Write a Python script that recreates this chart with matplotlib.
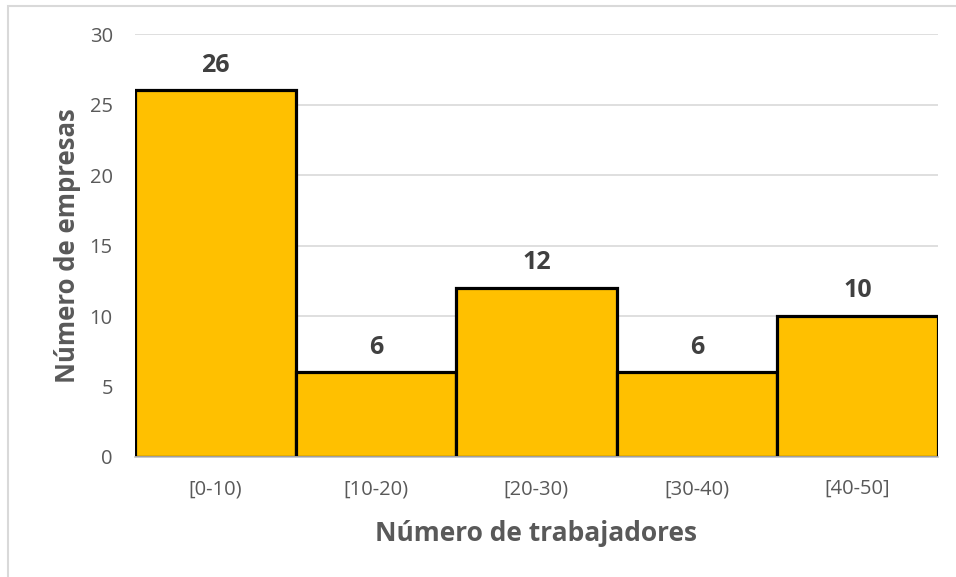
import matplotlib.pyplot as plt
from matplotlib.patches import Rectangle

categorias = ['[0-10)', '[10-20)', '[20-30)', '[30-40)', '[40-50]']
empresas = [26, 6, 12, 6, 10]

plt.rcParams['font.family'] = ['Open Sans', 'DejaVu Sans']

fig = plt.figure(figsize=(9.56, 5.77), dpi=100)
ax = fig.add_axes([0.1412, 0.208, 0.8398, 0.733])

# marco exterior del gráfico
fig.patches.append(Rectangle((8 / 956, -0.01), 1.0, 1 - 6 / 577 + 0.01,
                             transform=fig.transFigure, fill=False,
                             edgecolor='#d9d9d9', linewidth=1.5))

x = range(len(categorias))
ax.bar(x, empresas, width=1.0, color='#ffc000', edgecolor='black',
       linewidth=2.3, zorder=3)

for xi, v in zip(x, empresas):
    ax.text(xi, v + 0.9, str(v), ha='center', va='bottom',
            fontsize=18, fontweight='bold', color='#404040')

ax.set_xlim(-0.5, len(categorias) - 0.5)
ax.set_ylim(0, 30)
ax.set_yticks(range(0, 31, 5))
ax.set_xticks(list(x))
ax.set_xticklabels(categorias)
ax.tick_params(axis='both', length=0, labelsize=14.5, colors='#595959')
ax.tick_params(axis='x', pad=16)
ax.tick_params(axis='y', pad=16)
ax.grid(axis='y', color='#d9d9d9', linewidth=1.2, zorder=0)
for s in ['top', 'right', 'left']:
    ax.spines[s].set_visible(False)
ax.spines['bottom'].set_color('#bfbfbf')
ax.spines['bottom'].set_linewidth(1.2)
ax.spines['bottom'].set_zorder(4)

ax.set_xlabel('Número de trabajadores', fontsize=19, fontweight='bold',
              color='#595959', labelpad=15)
ax.set_ylabel('Número de empresas', fontsize=18.5, fontweight='bold',
              color='#595959', labelpad=6)

fig.savefig('out.png', dpi=100)
